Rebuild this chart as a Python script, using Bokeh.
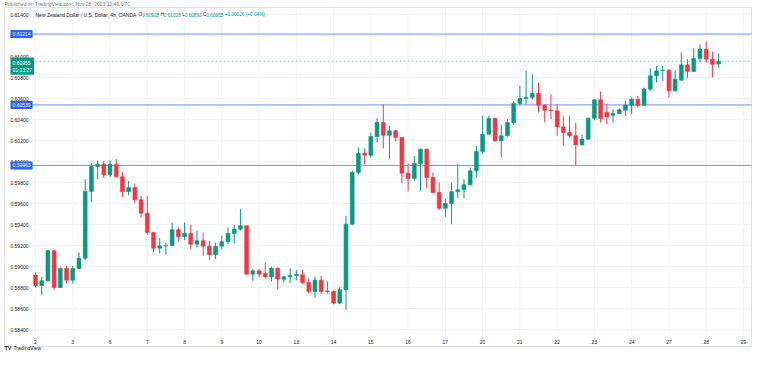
import numpy as np
from bokeh.plotting import figure
from bokeh.models import (ColumnDataSource, FixedTicker, Label, Range1d,
                          PrintfTickFormatter)
from bokeh.embed import file_html
from bokeh.resources import INLINE

# ---------------- data ----------------
day_labels = ["2", "3", "6", "7", "8", "9", "10", "13", "14", "15", "16", "17",
              "20", "21", "22", "23", "24", "27", "28", "29"]
bars_per_day = 6  # 4h candles

opens = [0.58918, 0.58817, 0.58864, 0.59150, 0.58800, 0.58981, 0.58870, 0.58981, 0.59079, 0.59714,
         0.59952, 0.59974, 0.59873, 0.59974, 0.59854, 0.59712, 0.59752, 0.59635, 0.59508, 0.59324,
         0.59175, 0.59197, 0.59200, 0.59350, 0.59283, 0.59315, 0.59213, 0.59245, 0.59194, 0.59112,
         0.59194, 0.59236, 0.59315, 0.59355, 0.59388, 0.58927, 0.58959, 0.58934, 0.58902, 0.58984,
         0.58879, 0.58902, 0.58912, 0.58921, 0.58848, 0.58762, 0.58870, 0.58768, 0.58762, 0.58651,
         0.58779, 0.59403, 0.59895, 0.60079, 0.60060, 0.60238, 0.60371, 0.60250, 0.60292, 0.60228,
         0.59889, 0.59838, 0.59981, 0.60117, 0.59848, 0.59705, 0.59555, 0.59600, 0.59712, 0.59731,
         0.59778, 0.59911, 0.60095, 0.60260, 0.60409, 0.60197, 0.60245, 0.60371, 0.60552, 0.60600,
         0.60609, 0.60650, 0.60536, 0.60488, 0.60483, 0.60330, 0.60276, 0.60245, 0.60159, 0.60212,
         0.60412, 0.60587, 0.60470, 0.60441, 0.60457, 0.60488, 0.60536, 0.60593, 0.60536, 0.60688,
         0.60816, 0.60864, 0.60869, 0.60673, 0.60775, 0.60921, 0.60857, 0.60981, 0.61069, 0.60974,
         0.60928]
closes = [0.58817, 0.58864, 0.59150, 0.58800, 0.58981, 0.58870, 0.58981, 0.59079, 0.59714, 0.59952,
          0.59974, 0.59873, 0.59974, 0.59854, 0.59712, 0.59752, 0.59635, 0.59508, 0.59324, 0.59175,
          0.59197, 0.59200, 0.59350, 0.59283, 0.59315, 0.59213, 0.59245, 0.59194, 0.59112, 0.59194,
          0.59236, 0.59315, 0.59355, 0.59388, 0.58927, 0.58959, 0.58927, 0.58902, 0.58984, 0.58879,
          0.58902, 0.58915, 0.58924, 0.58848, 0.58762, 0.58870, 0.58762, 0.58762, 0.58651, 0.58779,
          0.59403, 0.59895, 0.60079, 0.60060, 0.60238, 0.60371, 0.60250, 0.60292, 0.60228, 0.59889,
          0.59838, 0.59981, 0.60117, 0.59848, 0.59705, 0.59555, 0.59600, 0.59712, 0.59731, 0.59778,
          0.59911, 0.60095, 0.60260, 0.60409, 0.60197, 0.60245, 0.60371, 0.60552, 0.60600, 0.60609,
          0.60650, 0.60536, 0.60488, 0.60483, 0.60330, 0.60276, 0.60245, 0.60159, 0.60212, 0.60412,
          0.60587, 0.60409, 0.60425, 0.60457, 0.60492, 0.60536, 0.60593, 0.60536, 0.60688, 0.60816,
          0.60864, 0.60869, 0.60673, 0.60784, 0.60921, 0.60857, 0.60981, 0.61069, 0.60974, 0.60926,
          0.60955]
highs = [0.58943, 0.58902, 0.59159, 0.59159, 0.58991, 0.59007, 0.59007, 0.59134, 0.59831, 0.59990,
         0.60007, 0.60007, 0.60007, 0.60022, 0.59900, 0.59816, 0.59791, 0.59673, 0.59673, 0.59330,
         0.59270, 0.59229, 0.59419, 0.59372, 0.59419, 0.59397, 0.59340, 0.59324, 0.59245, 0.59229,
         0.59293, 0.59372, 0.59397, 0.59546, 0.59388, 0.58975, 0.58975, 0.59038, 0.58998, 0.58990,
         0.58912, 0.58984, 0.58965, 0.58969, 0.58889, 0.58902, 0.58912, 0.58858, 0.58772, 0.58807,
         0.59483, 0.59914, 0.60133, 0.60124, 0.60276, 0.60412, 0.60546, 0.60340, 0.60302, 0.60228,
         0.59981, 0.60054, 0.60124, 0.60124, 0.59895, 0.59800, 0.59641, 0.59800, 0.59974, 0.59831,
         0.59943, 0.60149, 0.60435, 0.60435, 0.60419, 0.60349, 0.60403, 0.60578, 0.60721, 0.60864,
         0.60832, 0.60752, 0.60545, 0.60641, 0.60546, 0.60435, 0.60435, 0.60371, 0.60260, 0.60419,
         0.60593, 0.60666, 0.60546, 0.60498, 0.60507, 0.60578, 0.60609, 0.60625, 0.60704, 0.60888,
         0.60911, 0.60911, 0.60880, 0.60869, 0.61038, 0.60974, 0.61079, 0.61117, 0.61142, 0.61047,
         0.61028]
lows = [0.58800, 0.58727, 0.58855, 0.58775, 0.58795, 0.58839, 0.58839, 0.58975, 0.59060, 0.59616,
        0.59831, 0.59841, 0.59854, 0.59850, 0.59664, 0.59679, 0.59600, 0.59467, 0.59302, 0.59134,
        0.59124, 0.59112, 0.59190, 0.59236, 0.59251, 0.59165, 0.59181, 0.59102, 0.59060, 0.59070,
        0.59165, 0.59213, 0.59219, 0.59343, 0.58924, 0.58864, 0.58896, 0.58886, 0.58858, 0.58784,
        0.58848, 0.58841, 0.58870, 0.58832, 0.58743, 0.58705, 0.58737, 0.58743, 0.58641, 0.58641,
        0.58584, 0.59391, 0.59879, 0.59974, 0.60038, 0.60181, 0.60124, 0.60031, 0.60190, 0.59791,
        0.59714, 0.59816, 0.59721, 0.59746, 0.59695, 0.59536, 0.59474, 0.59403, 0.59651, 0.59651,
        0.59769, 0.59848, 0.60076, 0.60260, 0.60188, 0.60038, 0.60235, 0.60349, 0.60536, 0.60546,
        0.60593, 0.60466, 0.60371, 0.60403, 0.60245, 0.60149, 0.60228, 0.59965, 0.60149, 0.60212,
        0.60393, 0.60371, 0.60355, 0.60371, 0.60450, 0.60435, 0.60450, 0.60514, 0.60536, 0.60673,
        0.60752, 0.60768, 0.60609, 0.60666, 0.60768, 0.60793, 0.60857, 0.60942, 0.60942, 0.60800,
        0.60892]

hline_levels = [0.61214, 0.60539, 0.59963]
last_price = 0.60955
countdown = "01:13:27"
price_ticks = [0.584, 0.586, 0.588, 0.590, 0.592, 0.594, 0.596, 0.598, 0.600,
               0.602, 0.604, 0.606, 0.608, 0.610, 0.612, 0.614]

header = "Published on TradingView.com, Nov 28, 2023 12:46 UTC"
symbol = "New Zealand Dollar / U.S. Dollar, 4h, OANDA"
ohlc_parts = [("O", "0.60928"), ("H", "0.61028"), ("L", "0.60892"), ("C", "0.60955")]
change_text = "+0.00026 (+0.04%)"

# ---------------- colours / fonts ----------------
UP = "#089981"
DOWN = "#f23645"
BLUE = "#2962ff"
GRID = "#f0f3fa"
BORDER = "#e0e3eb"
TXT = "#131722"
GREY = "#787b86"
FONT = "Liberation Sans"

W, H = 752, 350
# ---------------- pixel -> data helpers (picture pixels) ----------------
X0, DX = 35.0, 6.21          # x of candle 0, px per candle
Y0, DY = 164.0, 10500.0      # y of 0.600, px per price unit
YSHIFT = 3.0                 # picture rows dropped at the top


def xd(px):
    return (px - X0) / DX


def yd(py):
    return 0.6 + (Y0 - py) / DY


# approximate Arial/Liberation Sans advance widths (em) for legend layout
_EM = {"0": .556, "1": .556, "2": .556, "3": .556, "4": .556, "5": .556, "6": .556,
       "7": .556, "8": .556, "9": .556, ".": .278, "O": .778, "H": .722, "L": .556,
       "C": .722, "+": .584, " ": .278, "(": .333, ")": .333, "%": .889}


def text_w(s, size):
    return sum(_EM.get(ch, .556) for ch in s) * size


o = np.array(opens)
c = np.array(closes)
h = np.array(highs)
l = np.array(lows)
idx = np.arange(len(o))
colors = np.where(c >= o, UP, DOWN)

src = ColumnDataSource(dict(x=idx, top=np.maximum(o, c), bottom=np.minimum(o, c),
                            high=h, low=l, color=colors))

p = figure(width=W, height=H, output_backend="svg", toolbar_location=None,
           x_range=Range1d(xd(0), xd(W)), y_range=Range1d(yd(H + YSHIFT), yd(YSHIFT)),
           min_border=0, background_fill_color="white", border_fill_color="white")
p.outline_line_color = None
p.xgrid.visible = False
p.ygrid.visible = False

# axes drawn inside the canvas (fixed locations)
day_ticks = [bars_per_day * k for k in range(len(day_labels))]
p.xaxis.ticker = FixedTicker(ticks=day_ticks)
p.xaxis.major_label_overrides = {t: s for t, s in zip(day_ticks, day_labels)}
p.xaxis.fixed_location = yd(341.5)
p.yaxis.ticker = FixedTicker(ticks=price_ticks)
p.yaxis.formatter = PrintfTickFormatter(format="%.5f")
p.yaxis.fixed_location = xd(31)
for ax in (p.xaxis, p.yaxis):
    ax.axis_line_color = None
    ax.major_tick_line_color = None
    ax.minor_tick_line_color = None
    ax.major_tick_out = 0
    ax.major_tick_in = 0
    ax.major_label_text_font_size = "5px"
    ax.major_label_text_font = FONT
    ax.major_label_text_color = TXT
p.xaxis.major_label_standoff = 1
p.yaxis.major_label_standoff = 3

# panel border
p.quad(left=xd(4), right=xd(W - 1), top=yd(10), bottom=yd(349), fill_color=None,
       line_color=BORDER, line_width=1)

# grid lines (pane only)
p.segment(x0=day_ticks, x1=day_ticks, y0=yd(10), y1=yd(341), line_color=GRID, line_width=1)
p.segment(x0=xd(33), x1=xd(W - 1), y0=price_ticks, y1=price_ticks, line_color=GRID,
          line_width=1)

# horizontal levels
p.segment(x0=xd(31), x1=xd(W - 1), y0=hline_levels, y1=hline_levels, line_color=BLUE,
          line_width=1, line_alpha=0.7)
p.segment(x0=xd(31), x1=xd(W - 1), y0=[last_price], y1=[last_price], line_color=UP,
          line_width=1, line_alpha=0.45, line_dash="2 2")

# candles
p.segment(x0="x", y0="low", x1="x", y1="high", color="color", line_width=1, source=src)
p.vbar(x="x", width=0.62, top="top", bottom="bottom", fill_color="color",
       line_color="color", line_width=0.6, source=src)

# price tags on the price scale
for lv in hline_levels:
    p.add_layout(Label(x=xd(10), y=lv, text=f"{lv:.5f}", text_font=FONT,
                       text_font_size="5px", text_color="white", text_baseline="middle",
                       text_align="left", background_fill_color=BLUE, padding=2))
p.add_layout(Label(x=xd(10), y=yd(60), text=f"{last_price:.5f}\n{countdown}",
                   text_font=FONT, text_font_size="5px", text_color="white",
                   text_baseline="top", text_align="left", background_fill_color=UP,
                   padding=2))

# header / legend text
p.add_layout(Label(x=xd(4), y=yd(6), text=header, text_font=FONT, text_font_size="5px",
                   text_color=GREY, text_baseline="middle"))
p.add_layout(Label(x=xd(35), y=yd(17), text=symbol, text_font=FONT, text_font_size="5px",
                   text_color=TXT, text_baseline="middle"))
LFS = 4.7
LF = f"{LFS}px"
xp = 138.0
for k, val in ohlc_parts:
    p.add_layout(Label(x=xd(xp), y=yd(17), text=k, text_font=FONT, text_font_size=LF,
                       text_color=TXT, text_baseline="middle"))
    xp += text_w(k, LFS)
    p.add_layout(Label(x=xd(xp), y=yd(17), text=val, text_font=FONT,
                       text_font_size=LF, text_color=UP, text_baseline="middle"))
    xp += text_w(val + " ", LFS)
p.add_layout(Label(x=xd(xp), y=yd(17), text=change_text, text_font=FONT,
                   text_font_size=LF, text_color=UP, text_baseline="middle"))

# footer logo
p.add_layout(Label(x=xd(4), y=yd(350.5), text="TV", text_font=FONT, text_font_size="5.5px",
                   text_font_style="bold", text_color=TXT, text_baseline="middle"))
p.add_layout(Label(x=xd(13), y=yd(350.5), text="TradingView", text_font=FONT,
                   text_font_size="5px", text_color=TXT, text_baseline="middle"))

open("out.html", "w").write(file_html(p, INLINE))
